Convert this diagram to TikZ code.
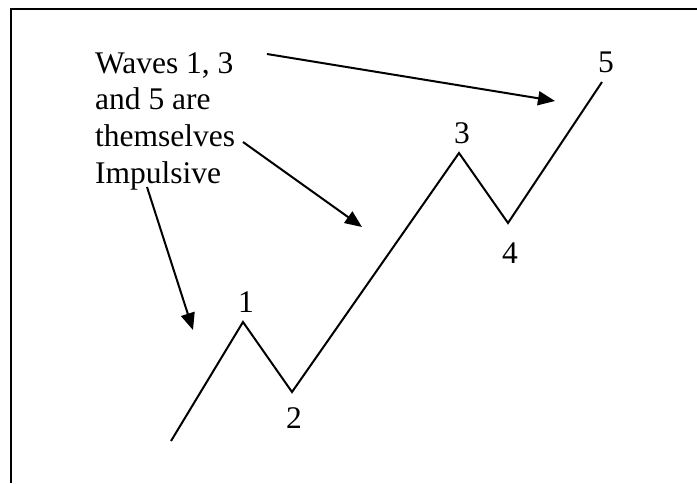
\documentclass[tikz,border=0pt]{standalone}
\usepackage{fontspec}
\setmainfont{Liberation Serif}
\usetikzlibrary{arrows.meta,positioning}
\tikzset{
  frm/.style  ={line width=2pt},
  wave/.style ={line width=2pt,line join=miter},
  ar/.style   ={line width=2pt,-{Triangle[length=17pt,width=14pt]}},
  lbl/.style  ={font=\fontsize{31.5}{36.7}\selectfont,inner sep=0pt},
  tag/.style  ={font=\fontsize{31.5}{36.7}\selectfont,inner sep=0pt},
}

\begin{document}
\begin{tikzpicture}[x=1pt,y=-1pt]
  \useasboundingbox (0,0) rectangle (697,483);
  % frame, only top and left edge show
  \coordinate (fa) at (11,483);
  \coordinate (fb) at (11,9);
  \coordinate (fc) at (697,9);
  \draw[frm] (fa) -- (fb) -- (fc);

  % the five waves
  \coordinate (w0) at (171,441);
  \coordinate (w1) at (243,322);
  \coordinate (w2) at (292,392);
  \coordinate (w3) at (459,153);
  \coordinate (w4) at (508,223);
  \coordinate (w5) at (602,82);
  \draw[wave] (w0) -- (w1) -- (w2) -- (w3) -- (w4) -- (w5);

  \node[tag] (n1) at (246,302){1};
  \node[tag] (n2) at (294,418){2};
  \node[tag] (n3) at (462,133){3};
  \node[tag] (n4) at (510,253){4};
  \node[tag] (n5) at (606,62){5};

  % note and its arrows
  \node[lbl,anchor=north west,align=left] (note) at (95,52)
    {Waves 1, 3\\and 5 are\\themselves\\Impulsive};
  \coordinate (s1) at (267,54);
  \coordinate (t1) at (555,101);
  \coordinate (s2) at (243,142);
  \coordinate (t2) at (362,227);
  \coordinate (s3) at (147,187);
  \coordinate (t3) at (193,330);
  \draw[ar] (s1) -- (t1);
  \draw[ar] (s2) -- (t2);
  \draw[ar] (s3) -- (t3);
\end{tikzpicture}
\end{document}
